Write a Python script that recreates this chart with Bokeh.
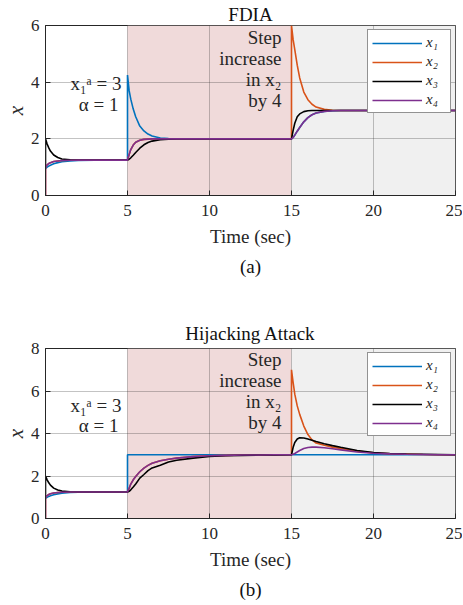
from bokeh.plotting import figure
from bokeh.models import Range1d, FixedTicker, BoxAnnotation, Title
from bokeh.core.properties import value
from bokeh.layouts import column
from bokeh.embed import file_html
from bokeh.resources import INLINE

# ---------------- data ----------------
t = [0, 0, 0.1, 0.2, 0.3, 0.5, 0.75, 1.0, 1.5, 2.0, 3, 4, 5,
     5, 5.1, 5.2, 5.35, 5.5, 5.75, 6.0, 6.25, 6.5, 7.0, 7.5, 8, 9, 10, 11, 12, 13, 14, 15,
     15, 15.1, 15.2, 15.35, 15.5, 15.75, 16, 16.25, 16.5, 17, 17.5, 18, 19, 20, 21, 22, 23, 24, 25]

# (a) FDIA
fdia_x1 = [0.95, 0.95, 1.00, 1.04, 1.07, 1.12, 1.16, 1.19, 1.22, 1.24, 1.25, 1.25, 1.25,
           4.25, 3.7, 3.4, 3.05, 2.78, 2.45, 2.28, 2.17, 2.1, 2.03, 2.01, 2.0, 2.0, 2.0, 2.0, 2.0, 2.0, 2.0, 2.0,
           2.0, 2.05, 2.13, 2.27, 2.4, 2.6, 2.75, 2.85, 2.91, 2.97, 2.99, 3.0, 3.0, 3.0, 3.0, 3.0, 3.0, 3.0, 3.0]
fdia_x2 = [0.0, 1.0, 1.08, 1.13, 1.16, 1.2, 1.22, 1.235, 1.245, 1.25, 1.25, 1.25, 1.25,
           1.25, 1.45, 1.62, 1.78, 1.88, 1.95, 1.98, 1.99, 2.0, 2.0, 2.0, 2.0, 2.0, 2.0, 2.0, 2.0, 2.0, 2.0, 2.0,
           6.0, 5.5, 5.15, 4.6, 4.15, 3.65, 3.38, 3.22, 3.12, 3.04, 3.01, 3.0, 3.0, 3.0, 3.0, 3.0, 3.0, 3.0, 3.0]
fdia_x3 = [1.0, 2.0, 1.82, 1.68, 1.57, 1.43, 1.34, 1.29, 1.26, 1.25, 1.25, 1.25, 1.25,
           1.25, 1.28, 1.33, 1.42, 1.52, 1.67, 1.79, 1.87, 1.92, 1.97, 1.99, 2.0, 2.0, 2.0, 2.0, 2.0, 2.0, 2.0, 2.0,
           2.0, 2.3, 2.55, 2.78, 2.88, 2.96, 2.99, 3.0, 3.0, 3.0, 3.0, 3.0, 3.0, 3.0, 3.0, 3.0, 3.0, 3.0, 3.0]
fdia_x4 = [0.0, 1.0, 1.08, 1.13, 1.16, 1.2, 1.22, 1.235, 1.245, 1.25, 1.25, 1.25, 1.25,
           1.25, 1.45, 1.62, 1.78, 1.88, 1.95, 1.98, 1.99, 2.0, 2.0, 2.0, 2.0, 2.0, 2.0, 2.0, 2.0, 2.0, 2.0, 2.0,
           2.0, 2.05, 2.13, 2.27, 2.4, 2.6, 2.75, 2.85, 2.91, 2.97, 2.99, 3.0, 3.0, 3.0, 3.0, 3.0, 3.0, 3.0, 3.0]

# (b) Hijacking attack
hij_x1 = [0.95, 0.95, 1.00, 1.04, 1.07, 1.12, 1.16, 1.19, 1.22, 1.24, 1.25, 1.25, 1.25,
          3.0, 3.0, 3.0, 3.0, 3.0, 3.0, 3.0, 3.0, 3.0, 3.0, 3.0, 3.0, 3.0, 3.0, 3.0, 3.0, 3.0, 3.0, 3.0,
          3.0, 3.0, 3.0, 3.0, 3.0, 3.0, 3.0, 3.0, 3.0, 3.0, 3.0, 3.0, 3.0, 3.0, 3.0, 3.0, 3.0, 3.0, 3.0]
hij_x2 = [0.0, 1.0, 1.08, 1.13, 1.16, 1.2, 1.22, 1.235, 1.245, 1.25, 1.25, 1.25, 1.25,
          1.25, 1.42, 1.62, 1.82, 1.98, 2.2, 2.37, 2.5, 2.6, 2.72, 2.79, 2.84, 2.91, 2.95, 2.97, 2.985, 2.99, 3.0, 3.0,
          7.0, 6.4, 5.85, 5.3, 4.9, 4.35, 3.95, 3.7, 3.55, 3.45, 3.36, 3.3, 3.17, 3.09, 3.05, 3.03, 3.01, 3.0, 3.0]
hij_x3 = [1.0, 2.0, 1.82, 1.68, 1.57, 1.43, 1.34, 1.29, 1.26, 1.25, 1.25, 1.25, 1.25,
          1.25, 1.28, 1.35, 1.48, 1.62, 1.9, 2.07, 2.25, 2.38, 2.51, 2.66, 2.74, 2.84, 2.92, 2.95, 2.97, 2.985, 2.995, 3.0,
          3.0, 3.35, 3.58, 3.74, 3.8, 3.79, 3.74, 3.68, 3.62, 3.52, 3.43, 3.35, 3.2, 3.1, 3.06, 3.03, 3.02, 3.01, 3.0]
hij_x4 = [0.0, 1.0, 1.08, 1.13, 1.16, 1.2, 1.22, 1.235, 1.245, 1.25, 1.25, 1.25, 1.25,
          1.25, 1.42, 1.62, 1.82, 1.98, 2.2, 2.37, 2.5, 2.6, 2.72, 2.79, 2.84, 2.91, 2.95, 2.97, 2.985, 2.99, 3.0, 3.0,
          3.0, 3.02, 3.06, 3.13, 3.2, 3.29, 3.34, 3.36, 3.36, 3.33, 3.28, 3.23, 3.13, 3.07, 3.04, 3.02, 3.01, 3.0, 3.0]

series_names = ["x\u2081", "x\u2082", "x\u2083", "x\u2084"]
x_ticks = [0, 5, 10, 15, 20, 25]
y_ticks_a = [0, 2, 4, 6]
y_ticks_b = [0, 2, 4, 6, 8]
phase_start = [5, 15]
phase_end = [15, 25]

# ---------------- style ----------------
FONT = "'Liberation Serif', serif"
COLORS = ["#0072BD", "#D95319", "#000000", "#7E2F8E"]
PHASE_FILL = ["#F0DADA", "#F0F0F0"]
AX = "#262626"


def make_panel(title, caption, ymax, yticks, ys, left_notes, right_notes, top_border,
               bottom_border, title_standoff):
    p = figure(frame_width=410, frame_height=170,
               x_range=Range1d(0, 25), y_range=Range1d(0, ymax),
               output_backend="svg", toolbar_location=None,
               min_border_left=38, min_border_right=7,
               min_border_top=top_border, min_border_bottom=bottom_border,
               background_fill_color="white", border_fill_color="white")
    p.title.text = title
    p.title.align = "center"
    p.title.text_font = FONT
    p.title.text_font_size = "19px"
    p.title.text_font_style = "normal"
    p.title.text_color = "#111111"
    p.title.standoff = title_standoff

    for s, e, c in zip(phase_start, phase_end, PHASE_FILL):
        p.add_layout(BoxAnnotation(left=s, right=e, fill_color=c, fill_alpha=1.0,
                                   line_alpha=0, level="image"))

    for y, name, c in zip(ys, series_names, COLORS):
        p.line(t, y, line_color=c, line_width=1.6, legend_label=name)

    p.xaxis.ticker = FixedTicker(ticks=x_ticks, minor_ticks=[])
    p.yaxis.ticker = FixedTicker(ticks=yticks, minor_ticks=[])
    p.xgrid.ticker = FixedTicker(ticks=x_ticks)
    p.ygrid.ticker = FixedTicker(ticks=yticks)
    p.grid.grid_line_color = AX
    p.grid.grid_line_alpha = 0.28
    p.grid.grid_line_width = 1

    for ax in (p.xaxis[0], p.yaxis[0]):
        ax.axis_line_color = AX
        ax.major_tick_line_color = AX
        ax.major_tick_in = 5
        ax.major_tick_out = 0
        ax.minor_tick_line_color = None
        ax.major_label_text_font = FONT
        ax.major_label_text_font_size = "17px"
        ax.major_label_text_font_style = "normal"
        ax.major_label_text_color = AX
        ax.axis_label_text_font = FONT
        ax.axis_label_text_font_size = "19px"
        ax.axis_label_text_font_style = "normal"
        ax.axis_label_text_color = AX
    p.xaxis.axis_label = "Time (sec)"
    p.xaxis.major_label_standoff = 9
    p.xaxis.axis_label_standoff = 7
    p.yaxis.axis_label = "x"
    p.yaxis.axis_label_text_font_style = "italic"
    p.yaxis.axis_label_text_font_size = "21px"
    p.yaxis.major_label_standoff = 6
    p.yaxis.axis_label_standoff = 0

    p.outline_line_color = AX
    p.outline_line_width = 1
    p.outline_line_alpha = 1

    cap = Title(text=caption, align="center", text_font=FONT, text_font_size="19px",
                text_font_style="normal", text_color="#111111", standoff=8)
    p.add_layout(cap, "below")

    lg = p.legend[0]
    lg.location = "top_right"
    lg.margin = 4
    lg.padding = 4
    lg.spacing = 2
    lg.glyph_width = 50
    lg.glyph_height = 16
    lg.label_height = 16
    lg.label_standoff = 4
    lg.label_text_font = FONT
    lg.label_text_font_style = "italic"
    lg.label_text_font_size = "15px"
    lg.label_text_color = AX
    lg.border_line_color = AX
    lg.border_line_width = 1
    lg.background_fill_alpha = 1

    notes = left_notes + right_notes
    p.text(x=[n[0] for n in notes], y=[n[1] for n in notes], text=[n[2] for n in notes],
           text_align="right", text_baseline="middle",
           text_font=value(FONT), text_font_size="19px",
           text_color="#262626")
    return p


notes_a_left = [(4.63, 3.95, "x\u2081\u1d43 = 3"), (4.45, 3.2, "\u03b1 = 1")]
notes_a_right = [(14.39, 5.58, "Step"), (14.39, 4.84, "increase"),
                 (14.39, 4.09, "in x\u2082"), (14.39, 3.35, "by 4")]
notes_b_left = [(4.63, 5.32, "x\u2081\u1d43 = 3"), (4.45, 4.36, "\u03b1 = 1")]
notes_b_right = [(14.39, 7.47, "Step"), (14.39, 6.49, "increase"),
                 (14.39, 5.51, "in x\u2082"), (14.39, 4.5, "by 4")]

p1 = make_panel("FDIA", "(a)", 6, y_ticks_a, [fdia_x1, fdia_x2, fdia_x3, fdia_x4],
                notes_a_left, notes_a_right, 21, 93, 2)
p2 = make_panel("Hijacking Attack", "(b)", 8, y_ticks_b, [hij_x1, hij_x2, hij_x3, hij_x4],
                notes_b_left, notes_b_right, 60, 75, 10)

layout = column(p1, p2, spacing=0)
open("out.html", "w").write(file_html(layout, INLINE))
